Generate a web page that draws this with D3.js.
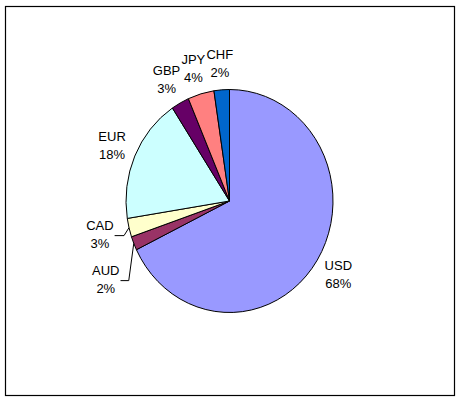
<!DOCTYPE html>
<html>
<head>
<meta charset="utf-8">
<script src="https://cdn.jsdelivr.net/npm/d3@7"></script>
<style>
  body { margin: 0; background: #fff; }
  svg { display: block; }
  text { font-family: "Liberation Sans", Arial, sans-serif; font-size: 13px; fill: #000; }
</style>
</head>
<body>
<div class="chart"></div>
<script>
// currency share of reserves, clockwise from 12 o'clock
var currencies = ['USD', 'AUD', 'CAD', 'EUR', 'GBP', 'JPY', 'CHF'];
var shares     = [67.8, 2.0, 2.7, 18.2, 2.8, 4.1, 2.4];
var colours    = ['#9999FF', '#993366', '#FFFFCC', '#CCFFFF', '#660066', '#FF8080', '#0066CC'];
// labels drawn with a leader line back to their slice
var leaderLabels = ['AUD', 'CAD'];

var width = 461;
var height = 403;
var centre = { x: 229.5, y: 201 };
var rx = 103.5, ry = 111.5;   // the pie is drawn a bit taller than wide
var labelFactor = 1.24;       // how far out the labels sit
var leaderShift = 5;          // leader-line labels sit a little further out
var lineHeight = 18;

var data = currencies.map((c, i) => ({ name: c, value: shares[i], colour: colours[i] }));
var total = d3.sum(data, d => d.value);
var pct = d3.format('.0%');

var svg = d3.select('.chart').append('svg')
  .attr('width', width)
  .attr('height', height);

// outer frame
svg.append('rect')
  .attr('x', 5.5).attr('y', 6.5)
  .attr('width', 449).attr('height', 389)
  .attr('fill', 'none')
  .attr('stroke', '#000')
  .attr('stroke-width', 1.2);

var pie = d3.pie().sort(null).value(d => d.value);
var arcs = pie(data);

var arc = d3.arc().innerRadius(0).outerRadius(rx);

var pieG = svg.append('g')
  .attr('transform', `translate(${centre.x},${centre.y}) scale(1,${ry / rx})`);

pieG.selectAll('path')
  .data(arcs)
  .enter()
  .append('path')
    .attr('d', arc)
    .attr('fill', d => d.data.colour)
    .attr('stroke', '#000')
    .attr('stroke-width', 1)
    .attr('stroke-linejoin', 'round')
    .attr('vector-effect', 'non-scaling-stroke');

// point on the ellipse at a given angle and radius factor
function ellipsePoint(angle, k) {
  return {
    x: centre.x + Math.sin(angle) * rx * k,
    y: centre.y - Math.cos(angle) * ry * k
  };
}

// labels
var labels = svg.append('g').selectAll('g.label')
  .data(arcs)
  .enter()
  .append('g')
  .attr('class', 'label');

labels.append('text')
  .attr('text-anchor', 'middle')
  .call(t => t.append('tspan').attr('x', 0).attr('dy', 0).text(d => d.data.name))
  .call(t => t.append('tspan').attr('x', 0).attr('dy', lineHeight).text(d => pct(d.data.value / total)));

// work out each label box, then push apart the ones that collide
var boxes = [];
labels.each(function(d) {
  var mid = (d.startAngle + d.endAngle) / 2;
  var p = ellipsePoint(mid, labelFactor);
  if (leaderLabels.includes(d.data.name)) p.x += Math.sign(Math.sin(mid)) * leaderShift;
  var bb = d3.select(this).select('text').node().getBBox();
  boxes.push({ d: d, node: this, mid: mid, cx: p.x, cy: p.y, w: bb.width, h: lineHeight * 2 + 9 });
});

function overlaps(a, b) {
  return Math.abs(a.cx - b.cx) < (a.w + b.w) / 2 + 1 &&
         Math.abs(a.cy - b.cy) < (a.h + b.h) / 2;
}

var placed = [];
boxes.slice().sort((a, b) => b.mid - a.mid).forEach(b => {
  placed.forEach(o => {
    if (!overlaps(b, o)) return;
    if (b.cy < centre.y) {
      b.cx = o.cx - (o.w + b.w) / 2 - 1;   // upper labels slide left
    } else {
      b.cy = o.cy + (o.h + b.h) / 2;       // lower labels slide down
    }
  });
  placed.push(b);
});

// position text: cy is the middle of the two-line block
boxes.forEach(b => {
  d3.select(b.node).attr('transform', `translate(${b.cx},${b.cy - lineHeight / 2 + 4.5})`);
});

// leader lines
var leaderG = svg.append('g');
boxes.filter(b => leaderLabels.includes(b.d.data.name)).forEach(b => {
  var edge = ellipsePoint(b.mid, 1);
  var x0 = b.cx + b.w / 2 + 1;
  var y0 = b.cy + 1.5;
  leaderG.append('path')
    .attr('d', d3.line()([[x0, y0], [Math.max(x0 + 6, edge.x - 5), y0], [edge.x, edge.y]]))
    .attr('fill', 'none')
    .attr('stroke', '#000')
    .attr('stroke-width', 1);
});
</script>
</body>
</html>
